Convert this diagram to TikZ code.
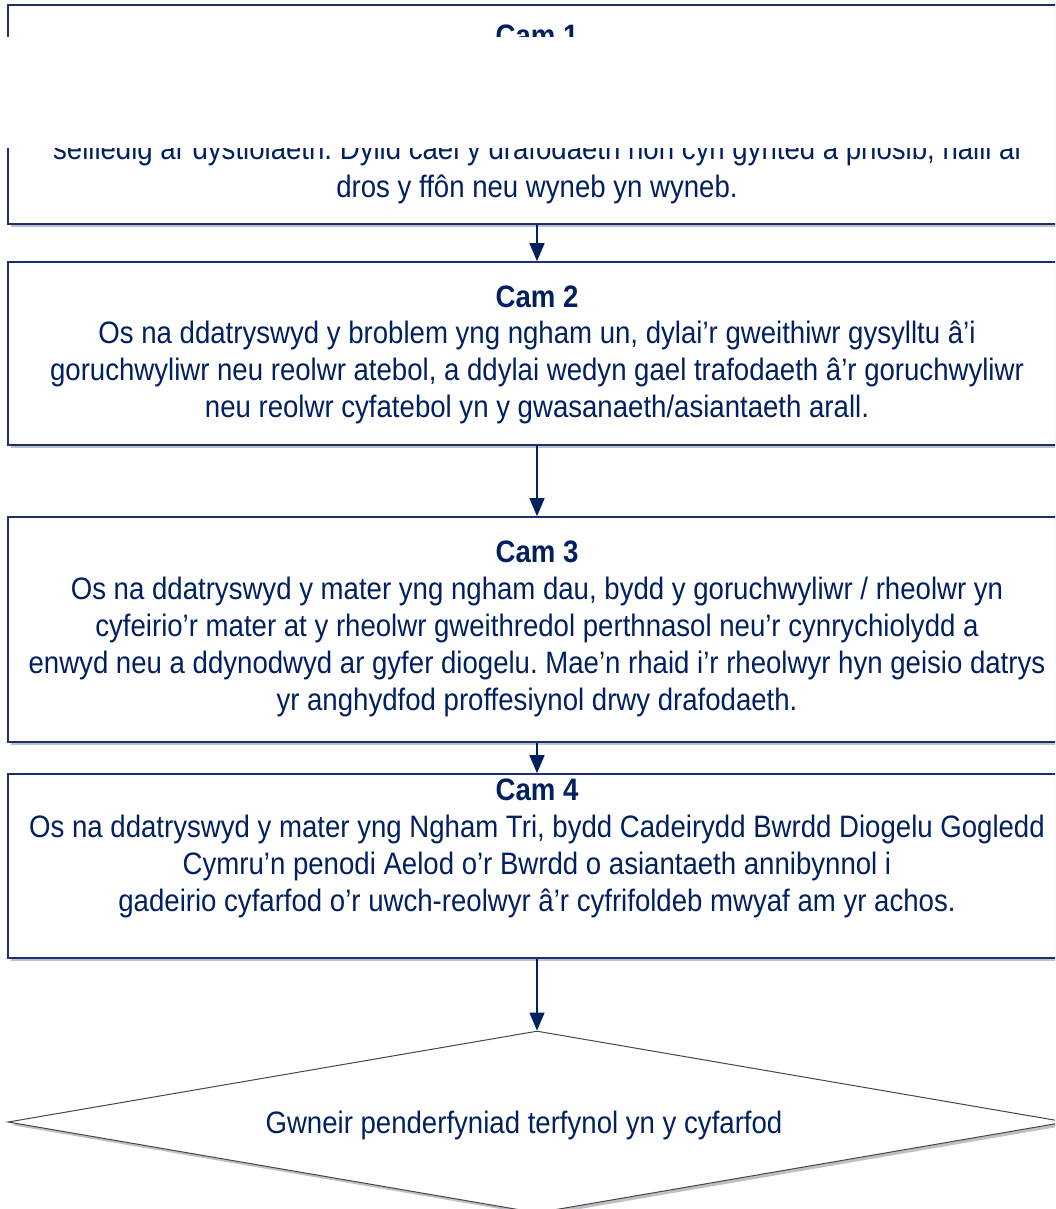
\documentclass[tikz,border=0pt]{standalone}
\usepackage{fontspec}
\setmainfont[FakeStretch=0.89]{Liberation Sans}
\usetikzlibrary{arrows.meta,shadows,shapes.geometric}
\frenchspacing
\definecolor{navytext}{RGB}{0,32,96}
\definecolor{boxblue}{RGB}{28,48,110}
\definecolor{shadowgrey}{RGB}{190,192,198}
\definecolor{diagrey}{RGB}{70,70,70}
\tikzset{
  stepbox/.style={rectangle, draw=boxblue, line width=1.6pt, fill=white,
    minimum width=1058pt, inner sep=0pt,
    drop shadow={shadow xshift=3pt, shadow yshift=-3pt, fill=shadowgrey, opacity=1}},
  endbox/.style={diamond, draw=diagrey, line width=1pt, fill=white,
    minimum width=1058pt, minimum height=182pt, inner sep=0pt,
    drop shadow={shadow xshift=3pt, shadow yshift=-3pt, fill=shadowgrey, opacity=1}},
  txt/.style={anchor=base, inner sep=0pt, text=navytext,
    font=\fontsize{31pt}{37pt}\selectfont},
  head/.style={txt, font=\fontsize{31pt}{37pt}\selectfont\bfseries},
  arr/.style={draw=navytext, line width=1.5pt,
    -{Triangle[length=18pt,width=15pt]}}
}
\begin{document}
\begin{tikzpicture}[x=1pt,y=-1pt]
\useasboundingbox (0,0) rectangle (1055,1209);
\clip (0,0) rectangle (1055,1209);
\fill[white] (0,0) rectangle (1055,1209);

% boxes
\node[stepbox, minimum height=219pt] (b1) at (537,114.5) {};
\node[stepbox, minimum height=183pt] (b2) at (537,353.5) {};
\node[stepbox, minimum height=225pt] (b3) at (537,629.5) {};
\node[stepbox, minimum height=184pt] (b4) at (537,866) {};
\node[endbox] (d) at (537,1122) {};

% box 1 text
\node[head] (h1) at (537,47) {Cam 1};
\node[txt] (l1a) at (537,160) {seiliedig ar dystiolaeth. Dylid cael y drafodaeth hon cyn gynted â phosib, naill ai};
\node[txt] (l1b) at (537,197) {dros y ffôn neu wyneb yn wyneb.};
% part of box 1 hidden in the reference
\fill[white] (0,37) rectangle (1055,148);

% box 2 text
\node[head] (h2) at (537,307) {Cam 2};
\node[txt] (l2a) at (537,343.5) {Os na ddatryswyd y broblem yng ngham un, dylai’r gweithiwr gysylltu â’i};
\node[txt] (l2b) at (537,380.5) {goruchwyliwr neu reolwr atebol, a ddylai wedyn gael trafodaeth â’r goruchwyliwr};
\node[txt] (l2c) at (537,417.5) {neu reolwr cyfatebol yn y gwasanaeth/asiantaeth arall.};

% box 3 text
\node[head] (h3) at (537,562) {Cam 3};
\node[txt] (l3a) at (537,599) {Os na ddatryswyd y mater yng ngham dau, bydd y goruchwyliwr / rheolwr yn};
\node[txt] (l3b) at (537,636) {cyfeirio’r mater at y rheolwr gweithredol perthnasol neu’r cynrychiolydd a};
\node[txt] (l3c) at (537,673) {enwyd neu a ddynodwyd ar gyfer diogelu. Mae’n rhaid i’r rheolwyr hyn geisio datrys};
\node[txt] (l3d) at (537,710) {yr anghydfod proffesiynol drwy drafodaeth.};

% box 4 text
\node[head] (h4) at (537,800) {Cam 4};
\node[txt] (l4a) at (537,837) {Os na ddatryswyd y mater yng Ngham Tri, bydd Cadeirydd Bwrdd Diogelu Gogledd};
\node[txt] (l4b) at (537,874) {Cymru’n penodi Aelod o’r Bwrdd o asiantaeth annibynnol i};
\node[txt] (l4c) at (537,911) {gadeirio cyfarfod o’r uwch-reolwyr â’r cyfrifoldeb mwyaf am yr achos.};

% diamond text
\node[txt] (dt) at (524,1133) {Gwneir penderfyniad terfynol yn y cyfarfod};

% connectors
\draw[arr] (b1.south) -- (b2.north);
\draw[arr] (b2.south) -- (b3.north);
\draw[arr] (b3.south) -- (b4.north);
\draw[arr] (b4.south) -- (d.north);
\end{tikzpicture}
\end{document}
